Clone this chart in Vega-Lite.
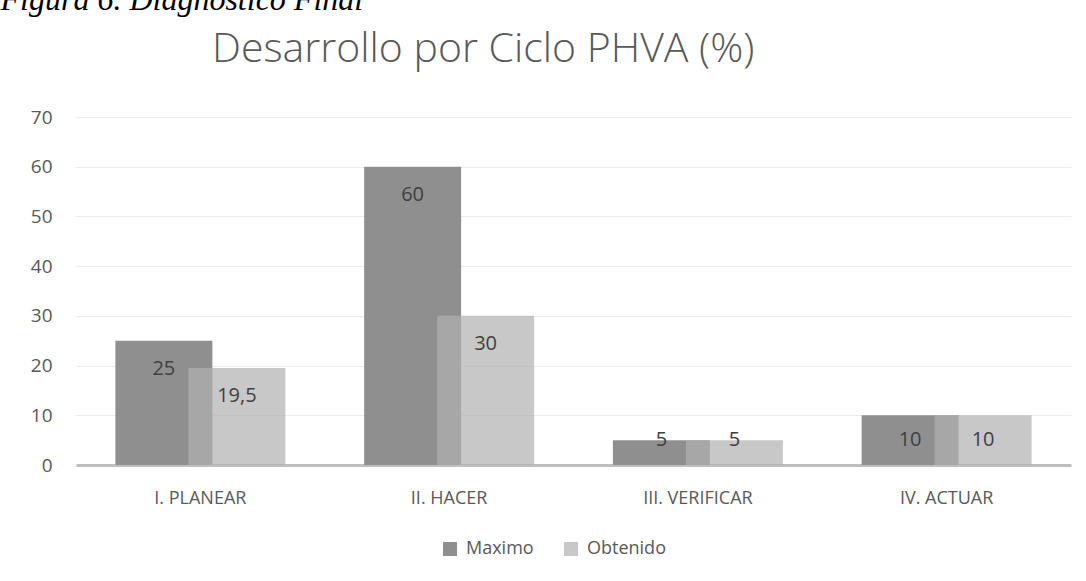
{
  "$schema": "https://vega.github.io/schema/vega-lite/v6.json",
  "width": 995,
  "height": 348,
  "autosize": {"type": "none"},
  "padding": {"left": 76, "top": 117, "right": 15, "bottom": 116},
  "background": "white",
  "config": {
    "font": "Open Sans",
    "view": {"stroke": null},
    "locale": {"number": {"decimal": ",", "thousands": ".", "grouping": [3], "currency": ["", " €"]}}
  },
  "title": {
    "text": "Desarrollo por Ciclo PHVA (%)",
    "anchor": "start",
    "frame": "group",
    "dx": 136,
    "offset": 0,
    "dy": 120,
    "baseline": "alphabetic",
    "font": "Open Sans",
    "fontWeight": 300,
    "fontSize": 41,
    "color": "#595959"
  },
  "data": {
    "values": [
      {"fase": "I. PLANEAR", "serie": "Maximo", "valor": 25},
      {"fase": "I. PLANEAR", "serie": "Obtenido", "valor": 19.5},
      {"fase": "II. HACER", "serie": "Maximo", "valor": 60},
      {"fase": "II. HACER", "serie": "Obtenido", "valor": 30},
      {"fase": "III. VERIFICAR", "serie": "Maximo", "valor": 5},
      {"fase": "III. VERIFICAR", "serie": "Obtenido", "valor": 5},
      {"fase": "IV. ACTUAR", "serie": "Maximo", "valor": 10},
      {"fase": "IV. ACTUAR", "serie": "Obtenido", "valor": 10}
    ]
  },
  "encoding": {
    "x": {
      "field": "fase", "type": "nominal", "sort": null,
      "scale": {"paddingInner": 0, "paddingOuter": 0},
      "axis": {
        "title": null, "labelAngle": 0, "ticks": false, "grid": false,
        "domain": true, "domainColor": "#bfbfbf", "domainWidth": 3,
        "labelFontSize": 18, "labelColor": "#595959", "labelPadding": 24
      }
    },
    "y": {
      "field": "valor", "type": "quantitative",
      "scale": {"domain": [0, 70], "nice": false},
      "axis": {
        "title": "Figura 6. Diagnóstico Final",
        "titleAngle": 0, "titleAlign": "left", "titleBaseline": "alphabetic",
        "titleX": -76, "titleY": -108,
        "titleFont": "Liberation Serif", "titleFontStyle": "italic", "titleFontWeight": "normal",
        "titleFontSize": 32, "titleColor": "#000000",
        "values": [0, 10, 20, 30, 40, 50, 60, 70],
        "ticks": false, "domain": false,
        "gridColor": "#ececec", "gridWidth": 1,
        "labelFontSize": 19, "labelColor": "#595959", "labelPadding": 24
      }
    }
  },
  "layer": [
    {
      "transform": [{"filter": "datum.serie === 'Maximo'"}],
      "mark": {"type": "bar", "width": 97, "xOffset": -36.5},
      "encoding": {
        "color": {
          "field": "serie", "type": "nominal",
          "scale": {"domain": ["Maximo", "Obtenido"], "range": ["#8f8f8f", "#c8c8c8"]},
          "legend": {
            "title": null, "orient": "none", "direction": "horizontal",
            "legendX": 365, "legendY": 423,
            "symbolType": "square", "symbolSize": 196, "symbolStrokeWidth": 0, "symbolOpacity": 1,
            "labelFontSize": 18, "labelColor": "#595959", "labelOffset": 7, "columnPadding": 28
          }
        }
      }
    },
    {
      "transform": [{"filter": "datum.serie === 'Obtenido'"}],
      "mark": {"type": "bar", "width": 97, "xOffset": 36.5, "color": "#b0b0b0", "opacity": 0.7}
    },
    {
      "transform": [{"filter": "datum.serie === 'Maximo' && datum.valor >= 15"}],
      "mark": {"type": "text", "xOffset": -36.5, "dy": 28, "baseline": "middle", "fontSize": 20, "color": "#404040"},
      "encoding": {"text": {"field": "valor", "type": "quantitative", "format": "~g"}}
    },
    {
      "transform": [{"filter": "datum.serie === 'Obtenido' && datum.valor >= 15"}],
      "mark": {"type": "text", "xOffset": 36.5, "dy": 28, "baseline": "middle", "fontSize": 20, "color": "#404040"},
      "encoding": {"text": {"field": "valor", "type": "quantitative", "format": "~g"}}
    },
    {
      "transform": [{"filter": "datum.serie === 'Maximo' && datum.valor == 10"}],
      "mark": {"type": "text", "xOffset": -36.5, "dy": 25, "baseline": "middle", "fontSize": 20, "color": "#404040"},
      "encoding": {"text": {"field": "valor", "type": "quantitative", "format": "~g"}}
    },
    {
      "transform": [{"filter": "datum.serie === 'Obtenido' && datum.valor == 10"}],
      "mark": {"type": "text", "xOffset": 36.5, "dy": 25, "baseline": "middle", "fontSize": 20, "color": "#404040"},
      "encoding": {"text": {"field": "valor", "type": "quantitative", "format": "~g"}}
    },
    {
      "transform": [{"filter": "datum.serie === 'Maximo' && datum.valor == 5"}],
      "mark": {"type": "text", "xOffset": -36.5, "dy": 0, "baseline": "middle", "fontSize": 20, "color": "#404040"},
      "encoding": {"text": {"field": "valor", "type": "quantitative", "format": "~g"}}
    },
    {
      "transform": [{"filter": "datum.serie === 'Obtenido' && datum.valor == 5"}],
      "mark": {"type": "text", "xOffset": 36.5, "dy": 0, "baseline": "middle", "fontSize": 20, "color": "#404040"},
      "encoding": {"text": {"field": "valor", "type": "quantitative", "format": "~g"}}
    }
  ]
}
